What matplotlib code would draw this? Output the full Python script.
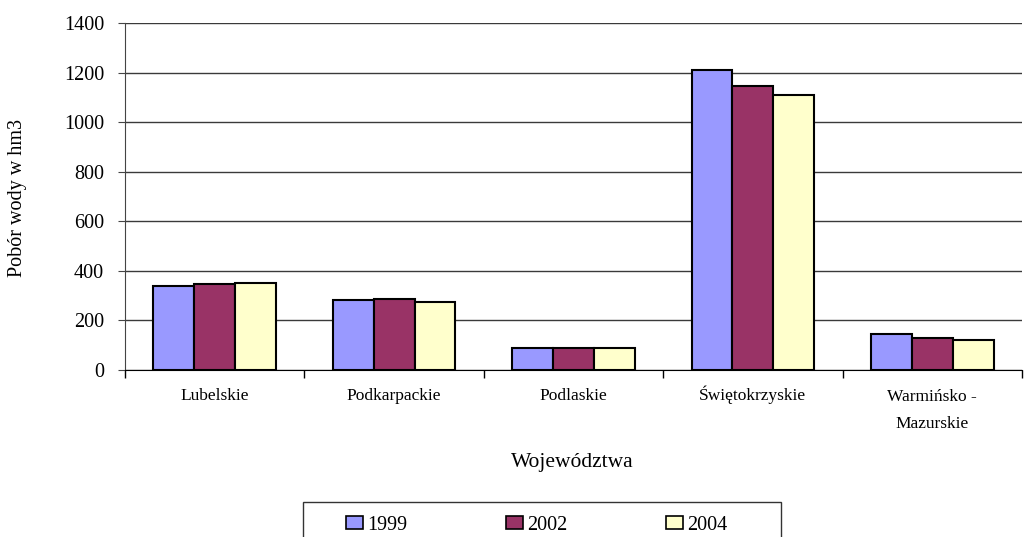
import matplotlib
matplotlib.use("Agg")
import matplotlib.pyplot as plt
import matplotlib.transforms as mtransforms
from matplotlib.patches import Rectangle
import numpy as np

plt.rcParams['font.family'] = ['Liberation Serif', 'DejaVu Serif']

# dane
wojewodztwa = ['Lubelskie', 'Podkarpackie', 'Podlaskie', 'Świętokrzyskie',
               'Warmińsko -\nMazurskie']
lata = ['1999', '2002', '2004']
pobor_1999 = [339, 282, 89, 1210, 145]
pobor_2002 = [345, 286, 89, 1146, 131]
pobor_2004 = [351, 274, 89, 1109, 123]
kolory = ['#9999FF', '#993366', '#FFFFCC']

W, H = 1026, 537
fig = plt.figure(figsize=(W / 100, H / 100), dpi=100)
ax = fig.add_axes([125 / W, 1 - 370 / H, 897 / W, 347 / H])

x = np.arange(len(wojewodztwa))
w = 0.228
for i, (vals, lab) in enumerate(zip([pobor_1999, pobor_2002, pobor_2004], lata)):
    ax.bar(x + (i - 1) * w, vals, width=w, color=kolory[i], edgecolor='black',
           linewidth=1.5, label=lab, zorder=3)

ax.set_xlim(-0.5, len(wojewodztwa) - 0.5)
ax.set_ylim(0, 1400)
ax.set_yticks(np.arange(0, 1401, 200))
ax.yaxis.grid(True, color='#3a3a3a', linewidth=1, zorder=0)

# podpisy kategorii - wyrownane do linii bazowej ostatniego wiersza
ax.set_xticks([])
ax.set_xticks(np.arange(-0.5, len(wojewodztwa)), minor=True)
ax.tick_params(axis='x', which='minor', length=6, width=1, color='black')
trans = mtransforms.blended_transform_factory(ax.transData, ax.transAxes)
for xi, name in zip(x, wojewodztwa):
    nlines = name.count('\n') + 1
    y_px = 30 + 28 * (nlines - 1)
    ax.text(xi, -y_px / 347, name, transform=trans, fontsize=12.5,
            ha='center', va='baseline', linespacing=1.9)

ax.tick_params(axis='y', labelsize=14.5, length=5, color='#444444', pad=10)

for s in ['top', 'right']:
    ax.spines[s].set_visible(False)
ax.spines['left'].set_color('#444444')
ax.spines['bottom'].set_color('black')

fig.text(18 / W, 1 - 198 / H, 'Pobór wody w hm3', fontsize=14.5,
         rotation=90, ha='center', va='center')
fig.text(572 / W, 1 - 463 / H, 'Województwa', fontsize=15.5,
         ha='center', va='center')

# legenda
fig.patches.append(Rectangle((303 / W, 1 - 560 / H), 478 / W, 58 / H,
                             transform=fig.transFigure, facecolor='white',
                             edgecolor='#333333', linewidth=1))
leg = fig.legend(loc='center left', bbox_to_anchor=(346 / W, 1 - 525 / H),
                 ncol=3, fontsize=14.5, frameon=False, borderpad=0,
                 borderaxespad=0, handlelength=0.85, handleheight=0.6,
                 handletextpad=0.2, columnspacing=4.9)
for h in leg.legend_handles:
    h.set_linewidth(1.2)

fig.savefig('out.png', dpi=100)
